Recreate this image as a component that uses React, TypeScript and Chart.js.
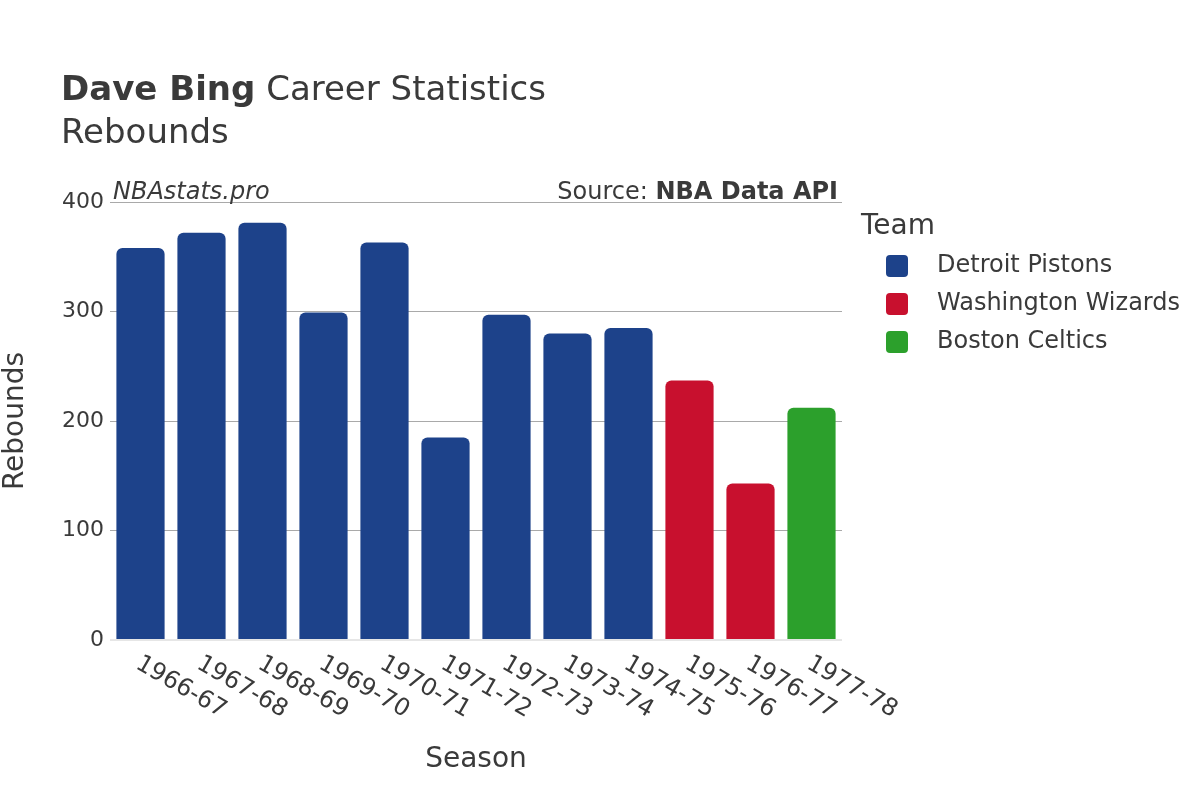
import React, { useEffect, useRef } from "react";
import { Chart, registerables } from "chart.js";

Chart.register(...registerables);

const seasons = ["1966-67", "1967-68", "1968-69", "1969-70", "1970-71", "1971-72", "1972-73", "1973-74", "1974-75", "1975-76", "1976-77", "1977-78"];
const rebounds = [358, 372, 381, 299, 363, 185, 297, 280, 285, 237, 143, 212];
const teams = ["Detroit Pistons", "Detroit Pistons", "Detroit Pistons", "Detroit Pistons", "Detroit Pistons", "Detroit Pistons", "Detroit Pistons", "Detroit Pistons", "Detroit Pistons", "Washington Wizards", "Washington Wizards", "Boston Celtics"];
const teamNames = ["Detroit Pistons", "Washington Wizards", "Boston Celtics"];
const teamColors = ["#1D428A", "#C8102E", "#2CA02C"];
const yTicks = [0, 100, 200, 300, 400];

const FONT = "'DejaVu Sans', sans-serif";
const TEXT = "#3a3a3a";

const decorPlugin = {
  id: "decor",
  afterDraw(chart: any) {
    const ctx = chart.ctx as CanvasRenderingContext2D;
    const area = chart.chartArea;
    const xScale = chart.scales.x;
    ctx.save();
    ctx.fillStyle = TEXT;
    ctx.textBaseline = "alphabetic";
    // Title
    ctx.textAlign = "left";
    ctx.font = `bold 34px ${FONT}`;
    ctx.fillText("Dave Bing", 61, 100);
    const w = ctx.measureText("Dave Bing").width;
    ctx.font = `34px ${FONT}`;
    ctx.fillText(" Career Statistics", 61 + w, 100);
    ctx.fillText("Rebounds", 61, 143);
    // watermark & source
    ctx.font = `italic 24px ${FONT}`;
    ctx.fillText("NBAstats.pro", area.left + 3, 199);
    ctx.textAlign = "right";
    ctx.font = `bold 24px ${FONT}`;
    ctx.fillText("NBA Data API", area.right - 4, 199);
    const bw = ctx.measureText("NBA Data API").width;
    ctx.font = `24px ${FONT}`;
    ctx.fillText("Source: ", area.right - 4 - bw, 199);
    // x tick labels, rotated clockwise
    ctx.font = `24px ${FONT}`;
    ctx.textAlign = "left";
    ctx.textBaseline = "middle";
    seasons.forEach((s, i) => {
      const x = xScale.getPixelForValue(i);
      ctx.save();
      ctx.translate(x - 3, area.bottom + 22);
      ctx.rotate(Math.PI / 6);
      ctx.fillText(s, 0, 0);
      ctx.restore();
    });
    // axis titles
    ctx.textAlign = "center";
    ctx.textBaseline = "middle";
    ctx.font = `28px ${FONT}`;
    ctx.fillText("Season", (area.left + area.right) / 2, 760);
    ctx.save();
    ctx.translate(16, (area.top + area.bottom) / 2);
    ctx.rotate(-Math.PI / 2);
    ctx.fillText("Rebounds", 0, 0);
    ctx.restore();
    // legend
    ctx.textAlign = "left";
    ctx.font = `28px ${FONT}`;
    ctx.fillText("Team", 861, 227);
    ctx.font = `24px ${FONT}`;
    teamNames.forEach((t, i) => {
      const cy = 266 + i * 38;
      ctx.fillStyle = teamColors[i];
      ctx.beginPath();
      (ctx as any).roundRect(886, cy - 11, 22, 22, 4);
      ctx.fill();
      ctx.fillStyle = TEXT;
      ctx.fillText(t, 937, cy);
    });
    ctx.restore();
  },
};

export default function App() {
  const ref = useRef<HTMLCanvasElement>(null);
  useEffect(() => {
    document.body.style.margin = "0";
    const colors = teams.map((t) => teamColors[teamNames.indexOf(t)]);
    const chart = new Chart(ref.current!, {
      type: "bar",
      data: {
        labels: seasons,
        datasets: [
          {
            label: "Rebounds",
            data: rebounds,
            backgroundColor: colors,
            borderWidth: 0,
            borderRadius: { topLeft: 6, topRight: 6, bottomLeft: 0, bottomRight: 0 },
            borderSkipped: "start",
            barPercentage: 0.79,
            categoryPercentage: 1,
          },
        ],
      },
      options: {
        animation: false,
        responsive: false,
        maintainAspectRatio: false,
        layout: { padding: { left: 0, right: 358, top: 202, bottom: 0 } },
        plugins: { legend: { display: false }, tooltip: { enabled: false }, title: { display: false } },
        scales: {
          x: {
            grid: { display: false },
            border: { display: false },
            ticks: { display: false },
            afterFit: (s: any) => {
              s.height = 160;
            },
          },
          y: {
            min: 0,
            max: 400,
            afterBuildTicks: (s: any) => {
              s.ticks = yTicks.map((v) => ({ value: v }));
            },
            grid: {
              color: (c: any) => (c.tick && c.tick.value === 0 ? "#e6e6e6" : "#a9a9a9"),
              lineWidth: (c: any) => (c.tick && c.tick.value === 0 ? 2 : 1),
              drawTicks: false,
            },
            border: { display: false },
            ticks: {
              padding: 6,
              color: TEXT,
              font: { family: FONT, size: 22 },
            },
            afterFit: (s: any) => {
              s.width = 110;
            },
          },
        },
      },
      plugins: [decorPlugin],
    });
    return () => chart.destroy();
  }, []);
  return (
    <div style={{ position: "absolute", left: 0, top: 0, width: 1200, height: 800 }}>
      <canvas ref={ref} width={1200} height={800} style={{ width: 1200, height: 800 }} />
    </div>
  );
}
